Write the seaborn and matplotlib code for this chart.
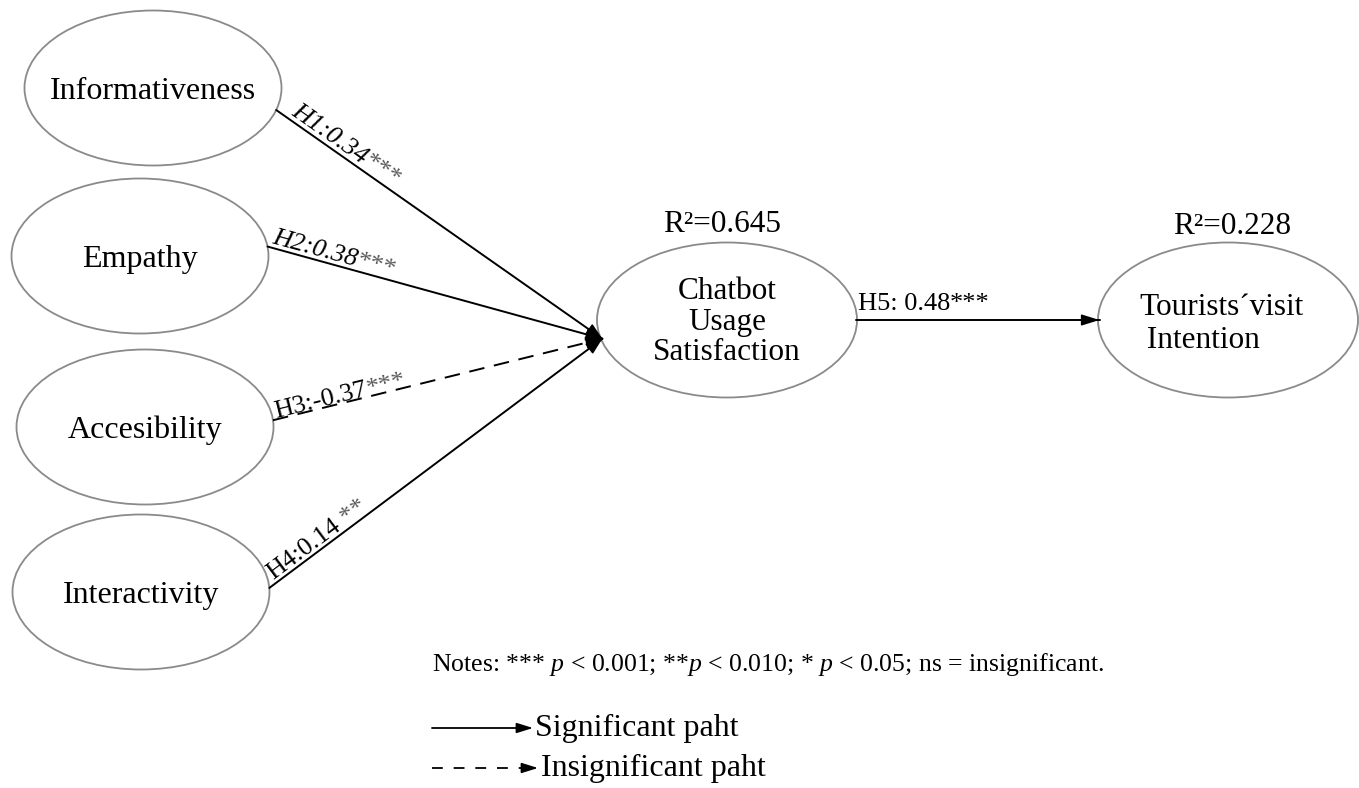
import numpy as np
import pandas as pd
import seaborn as sns
import matplotlib.pyplot as plt
from matplotlib.patches import Ellipse

# constructs of the structural model
predictors = ['Informativeness', 'Empathy', 'Accesibility', 'Interactivity']
mediator = 'Chatbot\nUsage\nSatisfaction'
outcome = 'Tourists\u00b4visit\n Intention'

# path estimates (H1-H4: predictor -> mediator, H5: mediator -> outcome)
hyp = ['H1', 'H2', 'H3', 'H4', 'H5']
beta = ['0.34', '0.38', '-0.37', '0.14', ' 0.48']
stars = ['***', '***', '***', ' **', '***']
significant = [True, True, False, True, True]
italic = [True, True, False, False, False]
r2_mediator = 0.645
r2_outcome = 0.228

notes = r'Notes: *** $p$ < 0.001; **$p$ < 0.010; * $p$ < 0.05; ns = insignificant.'
legend_labels = ['Significant paht', 'Insignificant paht']

# layout (pixel space of the 1359 x 788 canvas)
pred_xy = [(153, 88), (140, 256), (145, 427), (141, 592)]
med_xy = (727, 320)
out_xy = (1228, 320)
ell_w, ell_h = 257, 155
start_ang = [16.5, -7, -5, -3]   # where each path leaves its ellipse
end_ang = 166                    # where paths enter the mediator

sns.set_theme(style='white')
plt.rcParams['font.family'] = ['Liberation Serif', 'DejaVu Serif']
plt.rcParams['text.color'] = 'black'
plt.rcParams['mathtext.fontset'] = 'custom'
plt.rcParams['mathtext.it'] = 'Liberation Serif:italic'
plt.rcParams['mathtext.rm'] = 'Liberation Serif'

fig = plt.figure(figsize=(13.59, 7.88), dpi=100)
ax = fig.add_axes([0, 0, 1, 1])
ax.set_xlim(0, 1359)
ax.set_ylim(788, 0)
renderer = fig.canvas.get_renderer()


def on_ellipse(c, ang):
    t = np.radians(ang)
    return (c[0] + ell_w / 2 * np.cos(t), c[1] + ell_h / 2 * np.sin(t))


# ellipses + names
for name, c in zip(predictors, pred_xy):
    ax.add_patch(Ellipse(c, ell_w, ell_h, fill=False, ec='#8a8a8a', lw=1.3, zorder=1))
    ax.text(c[0], c[1] + 3, name, ha='center', va='center', fontsize=23)
for c in [med_xy, out_xy]:
    ax.add_patch(Ellipse(c, ell_w + 3, ell_h, fill=False, ec='#8a8a8a', lw=1.3, zorder=1))
ax.text(med_xy[0], med_xy[1] + 2, mediator, ha='center', va='center',
        fontsize=22.5, linespacing=1.05)
ax.text(out_xy[0] - 7, out_xy[1] + 4, outcome, ha='center', va='center',
        fontsize=22.5, linespacing=1.15, multialignment='left')
ax.text(med_xy[0] - 5, 224, f'R\u00b2={r2_mediator:.3f}', ha='center', va='center', fontsize=22.5)
ax.text(out_xy[0] + 4, 226, f'R\u00b2={r2_outcome:.3f}', ha='center', va='center', fontsize=22.5)

# path segments
segs = [(on_ellipse(c, a), on_ellipse(med_xy, end_ang)) for c, a in zip(pred_xy, start_ang)]
segs.append((on_ellipse(med_xy, 0), on_ellipse(out_xy, 180)))

rows = []
for i, (p, q) in enumerate(segs):
    kind = 'sig' if significant[i] else 'ns'
    rows.append(dict(edge=i, x=p[0], y=p[1], kind=kind))
    rows.append(dict(edge=i, x=q[0], y=q[1], kind=kind))
paths = pd.DataFrame(rows)

sns.lineplot(data=paths, x='x', y='y', units='edge', estimator=None, sort=False,
             style='kind', style_order=['sig', 'ns'], dashes={'sig': '', 'ns': (8, 5)},
             color='black', lw=1.4, legend=False, ax=ax)


def head(p, q, ms=12, hw=0.3):
    ax.annotate('', xy=q, xytext=p,
                arrowprops=dict(arrowstyle=f'-|>,head_length=0.9,head_width={hw}',
                                color='black', lw=1.2, mutation_scale=ms,
                                shrinkA=0, shrinkB=0))


def text_width(s, **kw):
    t = ax.text(0, 0, s, **kw)
    w = t.get_window_extent(renderer).width
    t.remove()
    return w


label_d = [14, 3, 4, 8, 2]
label_off = [5, 4, 1, 4, 10]
for i, (p, q) in enumerate(segs):
    d = np.array(q) - np.array(p)
    L = np.hypot(*d)
    u = d / L
    head(np.array(q) - u * 16, q, ms=11 if i < 4 else 12, hw=0.35 if i < 4 else 0.28)
    nrm = np.array([u[1], -u[0]])
    pos = np.array(p) + u * label_d[i] + nrm * label_off[i]
    ang = np.degrees(np.arctan2(-d[1], d[0]))
    kw = dict(fontsize=19, style='italic' if italic[i] else 'normal')
    main = f'{hyp[i]}:{beta[i]}'
    ax.text(pos[0], pos[1], main, rotation=ang, rotation_mode='anchor',
            ha='left', va='baseline', **kw)
    spos = pos + u * text_width(main, **kw)
    ax.text(spos[0], spos[1], stars[i], rotation=ang, rotation_mode='anchor',
            ha='left', va='baseline', fontsize=19,
            color='#5a5a5a' if i < 4 else 'black')

# notes and legend
ax.text(432, 665, notes, ha='left', va='center', fontsize=18.5)
ax.plot([432, 522], [728, 728], color='black', lw=1.3)
head((518, 728), (533, 728), ms=11, hw=0.28)
ax.text(535, 728, legend_labels[0], ha='left', va='center', fontsize=23)
ax.plot([432, 524], [768, 768], color='black', lw=1.3, ls=(0, (6, 6)))
head((524, 768), (538, 768), ms=11, hw=0.28)
ax.text(541, 768, legend_labels[1], ha='left', va='center', fontsize=23)

ax.set_xlim(0, 1359)
ax.set_ylim(788, 0)
ax.set_axis_off()
fig.savefig('out.png', dpi=100)
